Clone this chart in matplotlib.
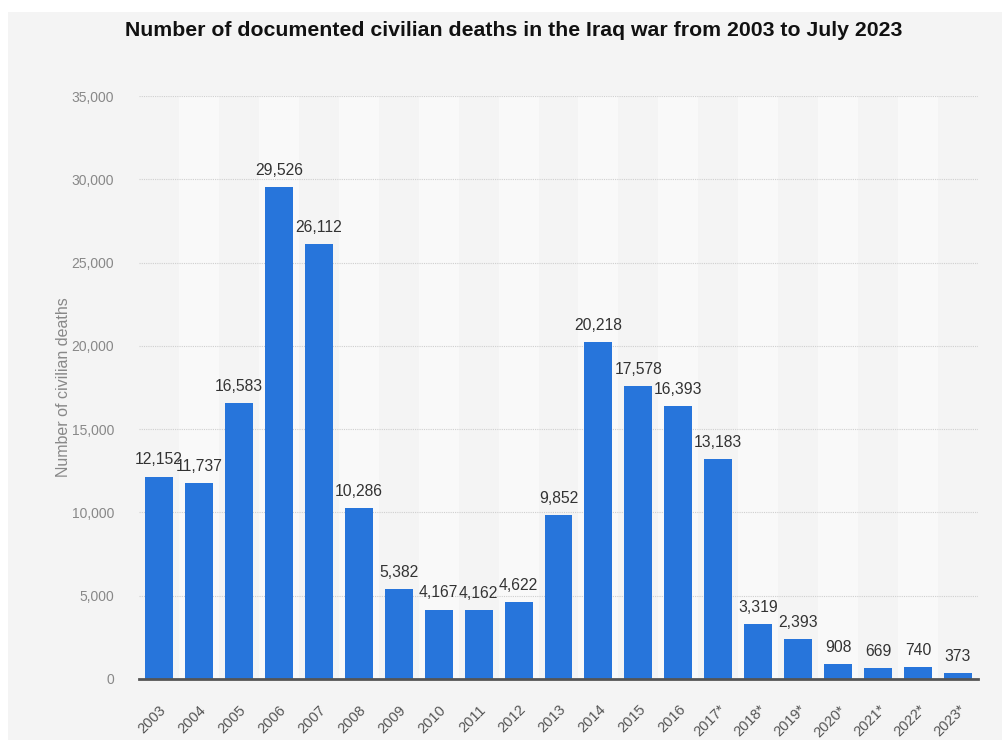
import matplotlib
matplotlib.use('Agg')
import matplotlib.pyplot as plt
from matplotlib.patches import Rectangle
from matplotlib.ticker import FuncFormatter

years = ['2003', '2004', '2005', '2006', '2007', '2008', '2009', '2010', '2011', '2012',
         '2013', '2014', '2015', '2016', '2017*', '2018*', '2019*', '2020*', '2021*', '2022*', '2023*']
deaths = [12152, 11737, 16583, 29526, 26112, 10286, 5382, 4167, 4162, 4622,
          9852, 20218, 17578, 16393, 13183, 3319, 2393, 908, 669, 740, 373]
yticks = [0, 5000, 10000, 15000, 20000, 25000, 30000, 35000]

TITLE = 'Number of documented civilian deaths in the Iraq war from 2003 to July 2023'
YLABEL = 'Number of civilian deaths'
BAR = '#2775db'
BG = '#f4f4f4'
BAND = '#f9f9f9'
FONT = ['Liberation Sans Narrow', 'Liberation Sans', 'DejaVu Sans']

plt.rcParams['font.family'] = FONT

fig = plt.figure(figsize=(10.03, 7.40), dpi=100)
fig.patch.set_facecolor('white')
fig.patches.append(Rectangle((8/1003, 0), 1 - 8/1003, 1 - 12/740, transform=fig.transFigure,
                             facecolor=BG, edgecolor='none', zorder=-10))

ax = fig.add_axes([139/1003, 1 - 679/740, (978 - 139)/1003, (679 - 96)/740])
ax.set_facecolor('none')
n = len(years)
x = list(range(n))
for i in x:
    if i % 2 == 1:
        ax.axvspan(i - 0.5, i + 0.5, color=BAND, zorder=0, lw=0)

ax.bar(x, deaths, width=0.7, color=BAR, zorder=3)
for xi, v in zip(x, deaths):
    ax.text(xi, v + 550, f'{v:,}', ha='center', va='bottom', fontsize=11.3, color='#333333', zorder=4)

ax.set_xlim(-0.5, n - 0.5)
ax.set_ylim(0, 35000)
ax.set_yticks(yticks)
ax.yaxis.set_major_formatter(FuncFormatter(lambda v, p: f'{int(v):,}'))
ax.grid(axis='y', color='#cfcfcf', linestyle=(0, (1, 1)), linewidth=0.8, zorder=1)
ax.set_xticks(x)
ax.set_xticklabels(years, rotation=45, ha='right', rotation_mode='anchor', fontsize=10.5, color='#555555')
ax.tick_params(axis='x', length=0, pad=17)
ax.tick_params(axis='y', length=0, pad=18, labelsize=10, labelcolor='#888888')
for s in ['top', 'right', 'left']:
    ax.spines[s].set_visible(False)
ax.spines['bottom'].set_color('#555555')
ax.spines['bottom'].set_linewidth(2)
ax.spines['bottom'].set_zorder(5)

ax.set_ylabel(YLABEL, fontsize=11.5, color='#888888', labelpad=0)
fig.text(0.512, 1 - 30/740, TITLE, ha='center', va='center', fontsize=15.3, fontweight='bold', color='#111111')

fig.savefig('out.png', dpi=100, facecolor='white')
